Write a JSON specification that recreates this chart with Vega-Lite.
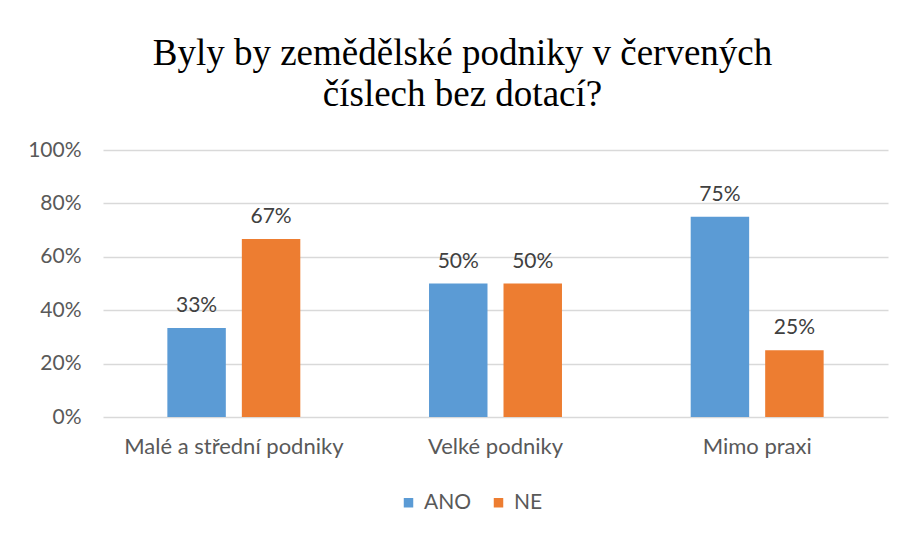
{
  "$schema": "https://vega.github.io/schema/vega-lite/v6.json",
  "width": 785,
  "height": 267,
  "autosize": {"type": "none"},
  "padding": {"left": 103, "top": 150, "right": 16, "bottom": 117},
  "background": "white",
  "title": {
    "text": ["Byly by zemědělské podniky v červených", "číslech bez dotací?"],
    "font": "Liberation Serif",
    "fontSize": 37,
    "fontWeight": "normal",
    "color": "#000000",
    "anchor": "middle",
    "dx": -33,
    "offset": 25,
    "lineHeight": 41
  },
  "data": {
    "values": [
      {"kategorie": "Malé a střední podniky", "odpoved": "ANO", "podil": 0.333},
      {"kategorie": "Malé a střední podniky", "odpoved": "NE", "podil": 0.667},
      {"kategorie": "Velké podniky", "odpoved": "ANO", "podil": 0.5},
      {"kategorie": "Velké podniky", "odpoved": "NE", "podil": 0.5},
      {"kategorie": "Mimo praxi", "odpoved": "ANO", "podil": 0.75},
      {"kategorie": "Mimo praxi", "odpoved": "NE", "podil": 0.25}
    ]
  },
  "encoding": {
    "x": {
      "field": "kategorie",
      "type": "nominal",
      "sort": null,
      "scale": {"paddingInner": 0, "paddingOuter": 0},
      "axis": {
        "title": null,
        "labelAngle": 0,
        "labelFont": "Lato",
        "labelFontSize": 22,
        "labelColor": "#595959",
        "labelPadding": 19,
        "labelLimit": 0,
        "domain": false,
        "ticks": false
      }
    },
    "xOffset": {
      "field": "odpoved",
      "type": "nominal",
      "scale": {"paddingInner": 0.215, "paddingOuter": 0.864}
    },
    "y": {
      "field": "podil",
      "type": "quantitative",
      "scale": {"domain": [0, 1]},
      "axis": {
        "title": null,
        "format": ".0%",
        "values": [0, 0.2, 0.4, 0.6, 0.8, 1],
        "labelOverlap": false,
        "labelFont": "Lato",
        "labelFontSize": 21,
        "labelColor": "#595959",
        "labelPadding": 22,
        "domain": false,
        "ticks": false,
        "gridColor": "#D9D9D9",
        "gridWidth": 1.3
      }
    }
  },
  "layer": [
    {
      "mark": {"type": "bar"},
      "encoding": {
        "color": {
          "field": "odpoved",
          "type": "nominal",
          "scale": {"domain": ["ANO", "NE"], "range": ["#5B9BD5", "#ED7D31"]},
          "legend": {
            "title": null,
            "orient": "none",
            "direction": "horizontal",
            "legendX": 295,
            "legendY": 342,
            "symbolType": "square",
            "symbolSize": 90,
            "symbolStrokeWidth": 0,
            "labelFont": "Lato",
            "labelFontSize": 21,
            "labelColor": "#595959",
            "labelOffset": 5,
            "columnPadding": 16
          }
        }
      }
    },
    {
      "mark": {"type": "text", "baseline": "alphabetic", "dy": -16, "font": "Lato", "fontSize": 21, "color": "#404040"},
      "encoding": {
        "text": {"field": "podil", "type": "quantitative", "format": ".0%"}
      }
    }
  ],
  "config": {
    "view": {"stroke": null}
  }
}
